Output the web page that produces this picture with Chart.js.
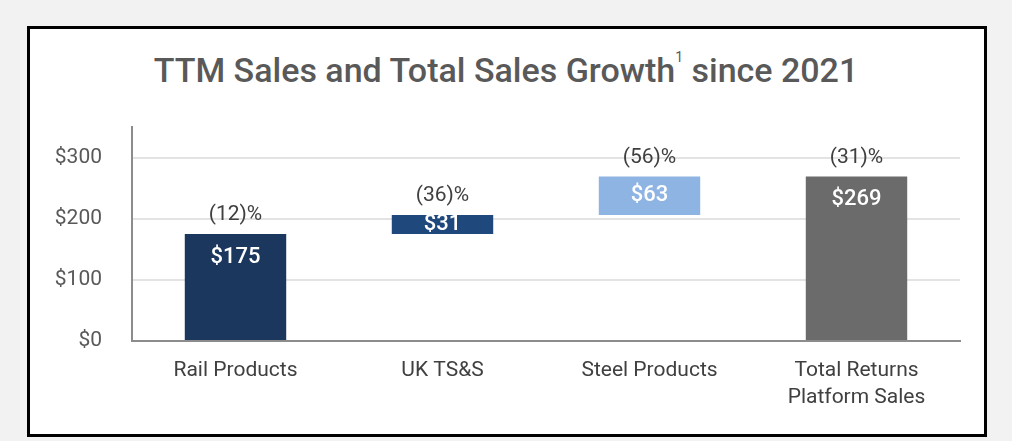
<!DOCTYPE html>
<html>
<head>
<meta charset="utf-8">
<script src="https://cdn.jsdelivr.net/npm/chart.js@4"></script>
<style>
  html, body { margin: 0; padding: 0; background: #f2f2f2; width: 1012px; height: 441px; overflow: hidden; }
  #box { position: absolute; left: 27px; top: 26px; width: 954px; height: 405px; background: #fff; border: 3px solid #000; }
  #title { position: absolute; left: 0; top: 50px; width: 1012px; text-align: center; font-family: Roboto, sans-serif; font-weight: 500; font-size: 34px; color: #595959; white-space: nowrap; }
  #title sup { font-size: 14px; font-weight: 400; vertical-align: 20px; line-height: 0; }
  #wrap { position: absolute; left: 0; top: 0; width: 1012px; height: 441px; }
</style>
</head>
<body>
<div id="box"></div>
<div id="title">TTM Sales and Total Sales Growth<sup>1</sup> since 2021</div>
<div id="wrap"><canvas id="myChart" width="1012" height="441"></canvas></div>
<script>
// data
categories = ['Rail Products', 'UK TS&S', 'Steel Products', ['Total Returns', 'Platform Sales']];
bar_start = [0, 175, 206, 0];
bar_end = [175, 206, 269, 269];
value_labels = ['$175', '$31', '$63', '$269'];
growth_labels = ['(12)%', '(36)%', '(56)%', '(31)%'];
bar_colors = ['#1c375e', '#1f497d', '#8eb4e3', '#6b6b6b'];

floating = [];
for (i = 0; i < categories.length; i++) {
  floating.push([bar_start[i], bar_end[i]]);
}

// labels in and above the bars
var labelPlugin = {
  id: 'labelPlugin',
  afterDatasetsDraw: function(chart) {
    var c = chart.ctx;
    var meta = chart.getDatasetMeta(0);
    c.save();
    c.textAlign = 'center';
    c.textBaseline = 'middle';
    meta.data.forEach(function(bar, i) {
      var top = Math.min(bar.y, bar.base);
      var h = Math.abs(bar.base - bar.y);
      c.font = '21px Roboto';
      c.fillStyle = '#404040';
      c.fillText(growth_labels[i], bar.x, top - 19);
      c.font = '500 22px Roboto';
      c.fillStyle = '#ffffff';
      var y = h > 60 ? top + 23 : top + h / 2;
      c.fillText(value_labels[i], bar.x, y);
    });
    c.restore();
  }
};

var ctx = document.getElementById('myChart').getContext('2d');
var myChart = new Chart(ctx, {
  type: 'bar',
  data: {
    labels: categories,
    datasets: [{
      data: floating,
      backgroundColor: bar_colors,
      barPercentage: 0.49,
      categoryPercentage: 1.0
    }]
  },
  options: {
    responsive: false,
    animation: false,
    devicePixelRatio: 1,
    layout: { padding: { left: 0, right: 52, top: 127, bottom: 0 } },
    plugins: { legend: { display: false }, tooltip: { enabled: false }, title: { display: false } },
    scales: {
      x: {
        grid: { display: false, drawTicks: false },
        border: { color: '#8c8c8c', width: 2 },
        ticks: { color: '#404040', font: { family: 'Roboto', size: 21, lineHeight: 1.3 }, padding: 16, maxRotation: 0 },
        afterFit: function(s) { s.height = 100; }
      },
      y: {
        min: 0,
        max: 350,
        grid: { color: '#e3e3e3', lineWidth: 2, drawTicks: false },
        border: { color: '#8c8c8c', width: 2 },
        ticks: {
          stepSize: 100,
          padding: 30,
          color: '#595959',
          font: { family: 'Roboto', size: 21 },
          callback: function(v) { return '$' + v; }
        },
        afterBuildTicks: function(s) { s.ticks = s.ticks.filter(function(t) { return t.value % 100 === 0; }); },
        afterFit: function(s) { s.width = 132; }
      }
    }
  },
  plugins: [labelPlugin]
});
</script>
</body>
</html>
